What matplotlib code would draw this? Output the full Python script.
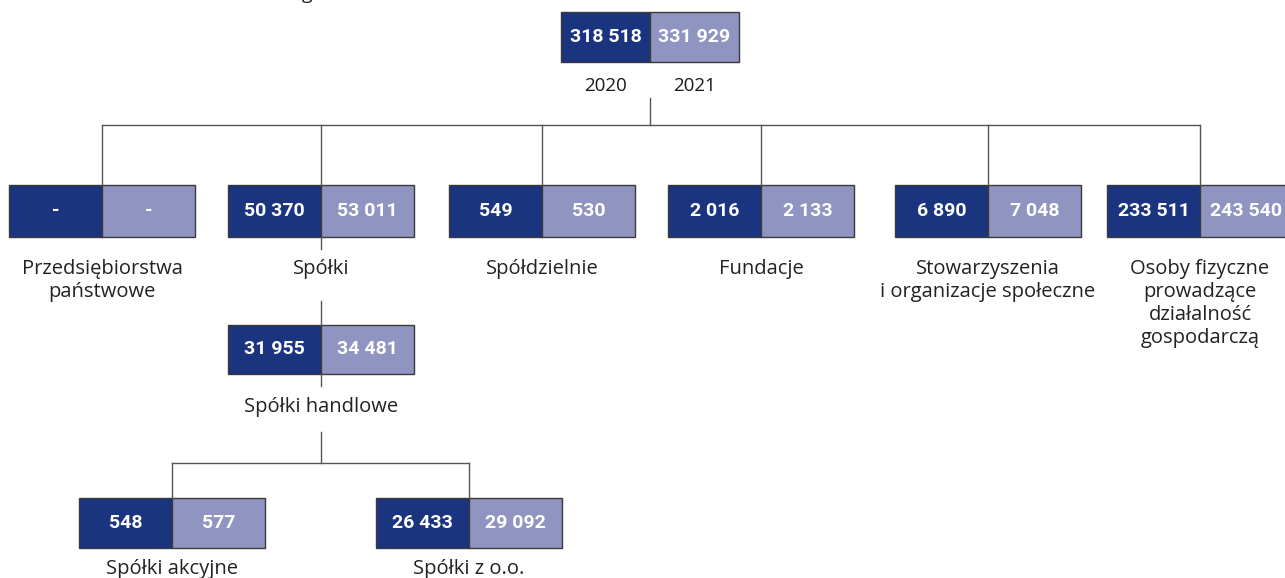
import matplotlib.pyplot as plt
from matplotlib.patches import Rectangle

plt.rcParams['font.family'] = ['Open Sans', 'DejaVu Sans']

# data
names = ['Ogółem', 'Przedsiębiorstwa\npaństwowe', 'Spółki', 'Spółdzielnie', 'Fundacje',
         'Stowarzyszenia\ni organizacje społeczne',
         'Osoby fizyczne\nprowadzące\ndziałalność\ngospodarczą',
         'Spółki handlowe', 'Spółki akcyjne', 'Spółki z o.o.']
v2020 = ['318 518', '-', '50 370', '549', '2 016', '6 890', '233 511', '31 955', '548', '26 433']
v2021 = ['331 929', '-', '53 011', '530', '2 133', '7 048', '243 540', '34 481', '577', '29 092']
years = ['2020', '2021']

# layout (pixel coordinates: split x of each box, top y of each box, gap to label)
split_x = [650, 102, 321, 542, 761, 988, 1200, 321, 172, 469]
top_y = [12, 185, 185, 185, 185, 185, 185, 325, 498, 498]
half_w = [89, 93, 93, 93, 93, 93, 93, 93, 93, 93]
box_h = [50, 52, 52, 52, 52, 52, 52, 49, 50, 50]
label_gap = [0, 32, 32, 32, 32, 32, 32, 33, 21, 21]

dark = '#1b3480'
light = '#8f94c0'
edge = '#3a3a3a'
line_c = '#555555'

fig = plt.figure(figsize=(12.85, 5.78), dpi=100)
ax = fig.add_axes([0, 0, 1, 1])
ax.set_xlim(0, 1285)
ax.set_ylim(578, 0)
ax.axis('off')

for i in range(len(names)):
    x, y, w, h = split_x[i], top_y[i], half_w[i], box_h[i]
    ax.add_patch(Rectangle((x - w, y), w, h, facecolor=dark, edgecolor=edge, lw=1))
    ax.add_patch(Rectangle((x, y), w, h, facecolor=light, edgecolor=edge, lw=1))
    for j, val in enumerate([v2020[i], v2021[i]]):
        ax.text(x - w / 2 + j * w, y + h / 2, val, color='white', fontsize=14,
                fontweight='bold', family=['Roboto', 'DejaVu Sans'],
                ha='center', va='center')
    if i == 0:
        for j, yr in enumerate(years):
            ax.text(x - w / 2 + j * w, 86, yr, fontsize=13.5, color='#1a1a1a',
                    ha='center', va='center')
    else:
        for k, ln in enumerate(names[i].split('\n')):
            ax.text(x, y + h + label_gap[i] + k * 23, ln, fontsize=14.5,
                    color='#222222', ha='center', va='center')

# connectors
ax.plot([650, 650], [98, 125], color=line_c, lw=1)
ax.plot([102, 1200], [125, 125], color=line_c, lw=1)
for i in range(1, 7):
    ax.plot([split_x[i], split_x[i]], [125, top_y[i]], color=line_c, lw=1)
ax.plot([321, 321], [237, 249], color=line_c, lw=1)
ax.plot([321, 321], [301, 325], color=line_c, lw=1)
ax.plot([321, 321], [374, 386], color=line_c, lw=1)
ax.plot([321, 321], [432, 463], color=line_c, lw=1)
ax.plot([172, 469], [463, 463], color=line_c, lw=1)
for i in (8, 9):
    ax.plot([split_x[i], split_x[i]], [463, top_y[i]], color=line_c, lw=1)

# title remnant cut by the top edge
ax.text(307, -1, 'g', fontsize=14, color='#222222', ha='center', va='baseline', clip_on=False)

fig.savefig('out.png', dpi=100)
